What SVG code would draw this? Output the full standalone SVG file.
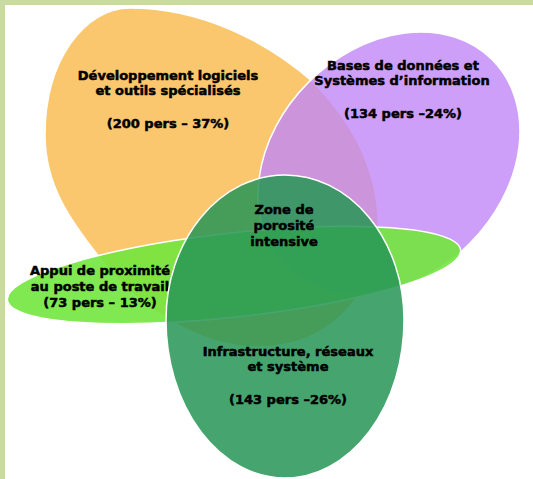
<svg xmlns="http://www.w3.org/2000/svg" width="533" height="479" viewBox="0 0 533 479">
  <style>
    .lbl { font-family: "DejaVu Sans", "Liberation Sans", sans-serif; font-weight: bold; font-size: 13px; fill: #000; stroke: #000; stroke-width: 0.5; text-anchor: middle; }
    .edge { stroke: #ffffff; stroke-width: 1.5; }
  </style>
  <rect x="0" y="0" width="533" height="479" fill="#c9dba2"/>
  <rect x="5" y="5" width="528" height="474" fill="#ffffff"/>

  <g id="dev">
    <path class="edge" fill="#fac76f" d="M313,82 C350,120 380,170 378,230 C376,295 330,345 262,347 C200,349 135,305 100,258 C70,220 45,185 45,135 C45,60 85,8 130,8 C200,8 265,40 313,82 Z"/>
    <text class="lbl" x="168" y="80">Développement logiciels</text>
    <text class="lbl" x="168" y="95">et outils spécialisés</text>
    <text class="lbl" x="168" y="128">(200 pers – 37%)</text>
  </g>

  <g id="bdd">
    <ellipse class="edge" cx="389" cy="163" rx="146" ry="114" transform="rotate(-45 389 163)" fill="#c187f6" fill-opacity="0.8"/>
    <text class="lbl" x="403" y="70">Bases de données et</text>
    <text class="lbl" x="402" y="85">Systèmes d’information</text>
    <text class="lbl" x="403" y="118">(134 pers –24%)</text>
  </g>

  <g id="appui">
    <ellipse class="edge" cx="234" cy="275" rx="228" ry="42" transform="rotate(-6.3 234 275)" fill="#72e53d" fill-opacity="0.9"/>
    <text class="lbl" x="100" y="275">Appui de proximité</text>
    <text class="lbl" x="100" y="291">au poste de travail</text>
    <text class="lbl" x="100" y="307">(73 pers – 13%)</text>
  </g>

  <g id="infra">
    <path class="edge" fill="#289656" fill-opacity="0.86" d="M166,320 A119,145 0 0 1 404,320 A119,158 0 0 1 166,320 Z"/>
    <text class="lbl" x="288" y="356">Infrastructure, réseaux</text>
    <text class="lbl" x="288" y="371">et système</text>
    <text class="lbl" x="288" y="404">(143 pers –26%)</text>
  </g>

  <g id="zone">
    <text class="lbl" x="284" y="214">Zone de</text>
    <text class="lbl" x="284" y="230">porosité</text>
    <text class="lbl" x="284" y="246">intensive</text>
  </g>

  <g id="connectors"/>
</svg>
